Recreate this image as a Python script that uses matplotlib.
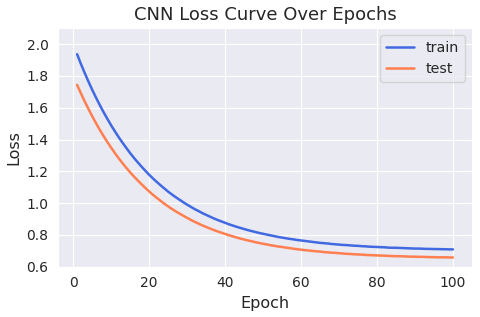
import matplotlib
matplotlib.use("Agg")
import matplotlib.pyplot as plt
import seaborn as sns

# Verlustwerte je Epoche
epochs = list(range(1, 101))

train_loss = [
    1.937, 1.876, 1.819, 1.764, 1.712, 1.663, 1.616, 1.571, 1.529, 1.488,
    1.450, 1.413, 1.379, 1.346, 1.314, 1.284, 1.256, 1.229, 1.203, 1.178,
    1.155, 1.133, 1.112, 1.092, 1.072, 1.054, 1.037, 1.021, 1.005, 0.990,
    0.976, 0.962, 0.950, 0.937, 0.926, 0.915, 0.904, 0.894, 0.885, 0.876,
    0.867, 0.859, 0.851, 0.844, 0.837, 0.830, 0.824, 0.818, 0.812, 0.807,
    0.802, 0.797, 0.792, 0.787, 0.783, 0.779, 0.775, 0.772, 0.768, 0.765,
    0.762, 0.759, 0.756, 0.753, 0.750, 0.748, 0.746, 0.743, 0.741, 0.739,
    0.737, 0.736, 0.734, 0.732, 0.731, 0.729, 0.728, 0.726, 0.725, 0.724,
    0.723, 0.722, 0.720, 0.719, 0.719, 0.718, 0.717, 0.716, 0.715, 0.714,
    0.714, 0.713, 0.712, 0.712, 0.711, 0.711, 0.710, 0.710, 0.709, 0.709,
]

test_loss = [
    1.744, 1.691, 1.640, 1.592, 1.546, 1.502, 1.460, 1.421, 1.383, 1.348,
    1.313, 1.281, 1.250, 1.221, 1.193, 1.167, 1.142, 1.118, 1.095, 1.073,
    1.052, 1.033, 1.014, 0.996, 0.979, 0.963, 0.948, 0.934, 0.920, 0.907,
    0.894, 0.882, 0.871, 0.860, 0.850, 0.840, 0.831, 0.822, 0.814, 0.806,
    0.798, 0.791, 0.784, 0.777, 0.771, 0.765, 0.760, 0.754, 0.749, 0.744,
    0.740, 0.735, 0.731, 0.727, 0.724, 0.720, 0.717, 0.713, 0.710, 0.707,
    0.704, 0.702, 0.699, 0.697, 0.695, 0.692, 0.690, 0.688, 0.687, 0.685,
    0.683, 0.681, 0.680, 0.678, 0.677, 0.676, 0.674, 0.673, 0.672, 0.671,
    0.670, 0.669, 0.668, 0.667, 0.666, 0.666, 0.665, 0.664, 0.663, 0.663,
    0.662, 0.662, 0.661, 0.660, 0.660, 0.659, 0.659, 0.659, 0.658, 0.658,
]

sns.set_style("darkgrid")

fig, ax = plt.subplots(figsize=(4.8, 3.17), dpi=100)
fig.subplots_adjust(left=0.1215, right=0.9827, top=0.9107, bottom=0.1587)

ax.plot(epochs, train_loss, color="royalblue", linewidth=1.8, label="train")
ax.plot(epochs, test_loss, color="coral", linewidth=1.8, label="test")

ax.set_ylim(0.6, 2.1)
ax.set_title("CNN Loss Curve Over Epochs", fontsize=13, color="#262626")
ax.set_xlabel("Epoch", fontsize=11.5)
ax.set_ylabel("Loss", fontsize=11.5)
ax.tick_params(labelsize=10)
ax.legend(loc="upper right", fontsize=10.3)

plt.savefig("out.png", dpi=100)
